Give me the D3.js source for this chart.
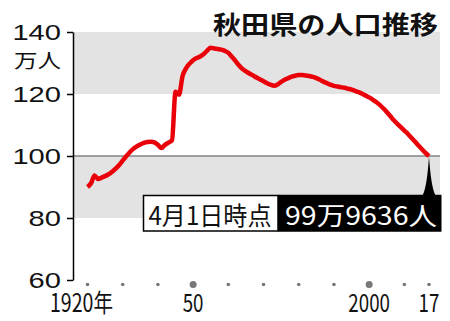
<!DOCTYPE html>
<html>
<head>
<meta charset="utf-8">
<script src="https://cdn.jsdelivr.net/npm/d3@7"></script>
<style>
  body { margin: 0; background: #fff; }
  text { font-family: "Noto Sans CJK JP", "Noto Sans", sans-serif; }
</style>
</head>
<body>
<svg id="chart" width="450" height="321"></svg>
<script>
// 秋田県の人口 (万人)
const years = [1920, 1921, 1922, 1923, 1924, 1925, 1926, 1927, 1928, 1929,
  1930, 1931, 1932, 1933, 1934, 1935, 1936, 1937, 1938, 1939,
  1940, 1941, 1942, 1943, 1944, 1945, 1946, 1947, 1948, 1949,
  1950, 1951, 1952, 1953, 1954, 1955, 1956, 1957, 1958, 1959,
  1960, 1961, 1962, 1963, 1964, 1965, 1966, 1967, 1968, 1969,
  1970, 1971, 1972, 1973, 1974, 1975, 1976, 1977, 1978, 1979,
  1980, 1981, 1982, 1983, 1984, 1985, 1986, 1987, 1988, 1989,
  1990, 1991, 1992, 1993, 1994, 1995, 1996, 1997, 1998, 1999,
  2000, 2001, 2002, 2003, 2004, 2005, 2006, 2007, 2008, 2009,
  2010, 2011, 2012, 2013, 2014, 2015, 2016, 2017];
const population = [90.0, 91.2, 93.7, 92.6, 93.0, 93.5, 94.1, 94.9, 95.9, 97.1,
  98.5, 99.9, 101.2, 102.3, 103.1, 103.7, 104.2, 104.5, 104.6, 104.4,
  103.6, 102.6, 103.6, 104.3, 105.1, 120.7, 119.8, 125.8, 128.3, 129.8,
  130.9, 131.6, 132.1, 132.9, 134.0, 134.9, 134.7, 134.5, 134.3, 133.9,
  133.3, 132.0, 130.7, 129.3, 128.1, 127.3, 126.6, 126.0, 125.3, 124.7,
  124.1, 123.5, 123.0, 122.7, 123.1, 123.9, 124.6, 125.1, 125.6, 125.9,
  126.1, 126.1, 126.0, 125.8, 125.5, 125.1, 124.6, 124.0, 123.5, 123.0,
  122.6, 122.4, 122.2, 122.0, 121.7, 121.4, 121.0, 120.6, 120.1, 119.5,
  118.9, 118.2, 117.4, 116.5, 115.4, 114.2, 112.9, 111.5, 110.4, 109.3,
  108.2, 107.1, 105.9, 104.7, 103.4, 102.2, 101.0, 99.96];

const yTicks = [60, 80, 100, 120, 140];
const bands = [[120, 140], [80, 100]];
const dotYears = [1920, 1930, 1940, 1950, 1960, 1970, 1980, 1990, 2000, 2010, 2017];
const bigDotYears = [1950, 2000];
const xLabelYears = [1920, 1950, 2000, 2017];
const xLabelTexts = ["1920年", "50", "2000", "17"];

const title = "秋田県の人口推移";
const unitLabel = "万人";
const noteDate = "4月1日時点";
const noteValue = "99万9636人";

let svg = d3.select("#chart");

let x = d3.scaleLinear().domain([1920, 2017]).range([87.5, 429]);
let y = d3.scaleLinear().domain([60, 140]).range([280, 32]);
const plotLeft = 73, plotRight = 440;

// gray bands
svg.append("g").selectAll("rect")
  .data(bands)
  .enter()
  .append("rect")
    .attr("x", plotLeft)
    .attr("y", d => y(d[1]))
    .attr("width", plotRight - plotLeft)
    .attr("height", d => y(d[0]) - y(d[1]))
    .attr("fill", "#e3e3e3");

// 100 line
svg.append("line")
  .attr("x1", plotLeft).attr("x2", plotRight)
  .attr("y1", y(100)).attr("y2", y(100))
  .attr("stroke", "#858585")
  .attr("stroke-width", 1.5);

// y axis
let yAxis = d3.axisLeft(y).tickValues(yTicks).tickSize(6).tickSizeOuter(0).tickFormat(d => d);
let yg = svg.append("g")
  .attr("transform", "translate(" + plotLeft + ",0)")
  .call(yAxis);
yg.select(".domain").attr("stroke", "#000").attr("stroke-width", 1.5);
yg.selectAll(".tick line").attr("stroke", "#000").attr("stroke-width", 1.5);
yg.selectAll(".tick text")
  .attr("x", -12)
  .attr("dy", "0.36em")
  .attr("font-size", 22)
  .attr("fill", "#111")
  .attr("textLength", d => String(d).length * 16.2)
  .attr("lengthAdjust", "spacingAndGlyphs")
  .style("font-family", "'Liberation Sans', sans-serif");

svg.append("text")
  .attr("x", 61).attr("y", 67.5)
  .attr("text-anchor", "end")
  .attr("font-size", 19.5)
  .attr("fill", "#111")
  .attr("textLength", 47)
  .attr("lengthAdjust", "spacingAndGlyphs")
  .text(unitLabel);

// x axis dots
svg.append("g").selectAll("circle")
  .data(dotYears)
  .enter()
  .append("circle")
    .attr("cx", d => x(d))
    .attr("cy", 284.5)
    .attr("r", d => bigDotYears.includes(d) ? 3.5 : 1.8)
    .attr("fill", "#777");

svg.append("g").selectAll("text")
  .data(xLabelYears)
  .enter()
  .append("text")
    .attr("x", (d, i) => i == 0 ? 81.5 : x(d))
    .attr("y", 312)
    .attr("text-anchor", "middle")
    .attr("font-size", 25)
    .attr("fill", "#111")
    .attr("textLength", (d, i) => i == 0 ? 63 : xLabelTexts[i].length * 10.4)
    .attr("lengthAdjust", "spacingAndGlyphs")
    .text((d, i) => xLabelTexts[i]);

// title
svg.append("text")
  .attr("x", 438).attr("y", 34)
  .attr("text-anchor", "end")
  .attr("font-size", 25)
  .attr("font-weight", "bold")
  .attr("fill", "#111")
  .attr("textLength", 225)
  .attr("lengthAdjust", "spacingAndGlyphs")
  .text(title);

// annotation
let last = years.length - 1;
let tipX = x(years[last]), tipY = y(population[last]);
let boxTop = 195.5, boxBottom = 231;

svg.append("path")
  .attr("d", "M" + tipX + "," + tipY +
    " Q" + (tipX - 2) + "," + (boxTop - 8) + " " + (tipX - 6.5) + "," + boxTop +
    " L" + (tipX + 6.5) + "," + boxTop +
    " Q" + (tipX + 2) + "," + (boxTop - 8) + " " + tipX + "," + tipY + "Z")
  .attr("fill", "#000");

svg.append("rect")
  .attr("x", 143.5).attr("y", boxTop)
  .attr("width", 278 - 143.5).attr("height", boxBottom - boxTop)
  .attr("fill", "#fff")
  .attr("stroke", "#000")
  .attr("stroke-width", 1.5);

svg.append("rect")
  .attr("x", 278).attr("y", boxTop - 0.75)
  .attr("width", 441.5 - 278).attr("height", boxBottom - boxTop + 1.5)
  .attr("fill", "#000");

svg.append("text")
  .attr("x", 148.5).attr("y", 224.5)
  .attr("font-size", 25)
  .attr("fill", "#111")
  .attr("textLength", 123)
  .attr("lengthAdjust", "spacingAndGlyphs")
  .text(noteDate);

svg.append("text")
  .attr("x", 285).attr("y", 225)
  .attr("font-size", 25)
  .attr("fill", "#fff")
  .attr("textLength", 152)
  .attr("lengthAdjust", "spacingAndGlyphs")
  .text(noteValue);

// population line
let line = d3.line()
  .x((d, i) => x(years[i]))
  .y(d => y(d))
  .curve(d3.curveMonotoneX);

svg.append("path")
  .datum(population)
  .attr("d", line)
  .attr("fill", "none")
  .attr("stroke", "#ea0008")
  .attr("stroke-width", 4.5)
  .attr("stroke-linejoin", "round");
</script>
</body>
</html>
